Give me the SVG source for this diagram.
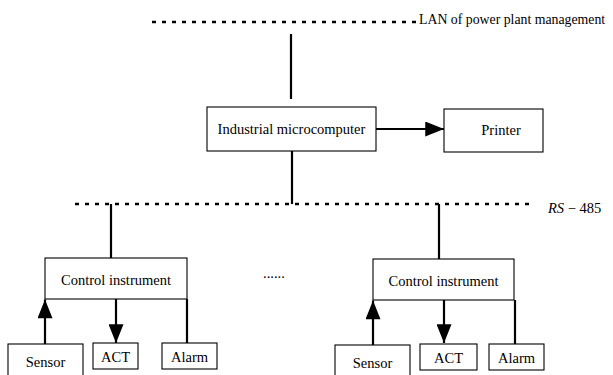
<svg xmlns="http://www.w3.org/2000/svg" width="613" height="375" viewBox="0 0 613 375">
<style>
  .box { fill: #fff; stroke: #000; stroke-width: 1.1; }
  text { font-family: 'Liberation Serif', 'DejaVu Serif', serif; font-size: 14.5px; fill: #000; }
  .ln { stroke: #000; stroke-width: 2.2; fill: none; }
  .arr { stroke: #000; stroke-width: 2.2; fill: none; marker-end: url(#ah); }
  .bus { stroke: #000; stroke-width: 2.6; stroke-dasharray: 4 6; fill: none; }
</style>
<defs>
  <marker id="ah" viewBox="0 0 20 16" markerWidth="20" markerHeight="15" refX="20" refY="8" orient="auto" markerUnits="userSpaceOnUse">
    <path d="M0,0 L20,8 L0,16 z" fill="#000"/>
  </marker>
</defs>
<rect width="613" height="375" fill="#fff"/>

<g id="lan">
  <line class="bus" x1="152" y1="22" x2="418" y2="22"/>
  <text x="419" y="24" style="font-size:13.8px">LAN of power plant management</text>
</g>
<g id="rs485">
  <line class="bus" x1="75" y1="204" x2="533" y2="204"/>
  <text x="548" y="213"><tspan font-style="italic">RS</tspan> − 485</text>
</g>

<g id="connectors">
  <line class="ln" x1="291" y1="34" x2="291" y2="99"/>
  <line class="ln" x1="292" y1="151" x2="292" y2="204"/>
  <line class="arr" x1="376" y1="129" x2="444" y2="129"/>
  <line class="ln" x1="111" y1="204" x2="111" y2="258"/>
  <line class="ln" x1="439" y1="204" x2="439" y2="259"/>
  <line class="arr" x1="45" y1="344" x2="45" y2="299.5"/>
  <line class="arr" x1="116" y1="299" x2="116" y2="343"/>
  <line class="ln" x1="187" y1="299" x2="187" y2="343"/>
  <line class="arr" x1="373" y1="345" x2="373" y2="300.5"/>
  <line class="arr" x1="444" y1="300" x2="444" y2="343"/>
  <line class="ln" x1="515" y1="300" x2="515" y2="344"/>
</g>

<g id="microcomputer">
  <rect class="box" x="207" y="107" width="169" height="44"/>
  <text x="291.5" y="134" text-anchor="middle">Industrial microcomputer</text>
</g>
<g id="printer">
  <rect class="box" x="444" y="109" width="99" height="43"/>
  <text x="501" y="135" text-anchor="middle">Printer</text>
</g>

<g id="control1">
  <rect class="box" x="45" y="258" width="142" height="41"/>
  <text x="116" y="285" text-anchor="middle">Control instrument</text>
</g>
<g id="control2">
  <rect class="box" x="373" y="259" width="141" height="41"/>
  <text x="443.5" y="286" text-anchor="middle">Control instrument</text>
</g>

<g id="dots">
  <text x="263" y="278">......</text>
</g>

<g id="sensor1">
  <rect class="box" x="8" y="344" width="75" height="40"/>
  <text x="45.5" y="367" text-anchor="middle">Sensor</text>
</g>
<g id="act1">
  <rect class="box" x="93" y="343" width="45" height="26"/>
  <text x="115.5" y="362" text-anchor="middle">ACT</text>
</g>
<g id="alarm1">
  <rect class="box" x="162" y="343" width="55" height="26"/>
  <text x="189.5" y="362" text-anchor="middle">Alarm</text>
</g>

<g id="sensor2">
  <rect class="box" x="335" y="345" width="75" height="40"/>
  <text x="372.5" y="368" text-anchor="middle">Sensor</text>
</g>
<g id="act2">
  <rect class="box" x="420" y="344" width="57" height="26"/>
  <text x="448.5" y="363" text-anchor="middle">ACT</text>
</g>
<g id="alarm2">
  <rect class="box" x="489" y="344" width="55" height="26"/>
  <text x="516.5" y="363" text-anchor="middle">Alarm</text>
</g>
</svg>
